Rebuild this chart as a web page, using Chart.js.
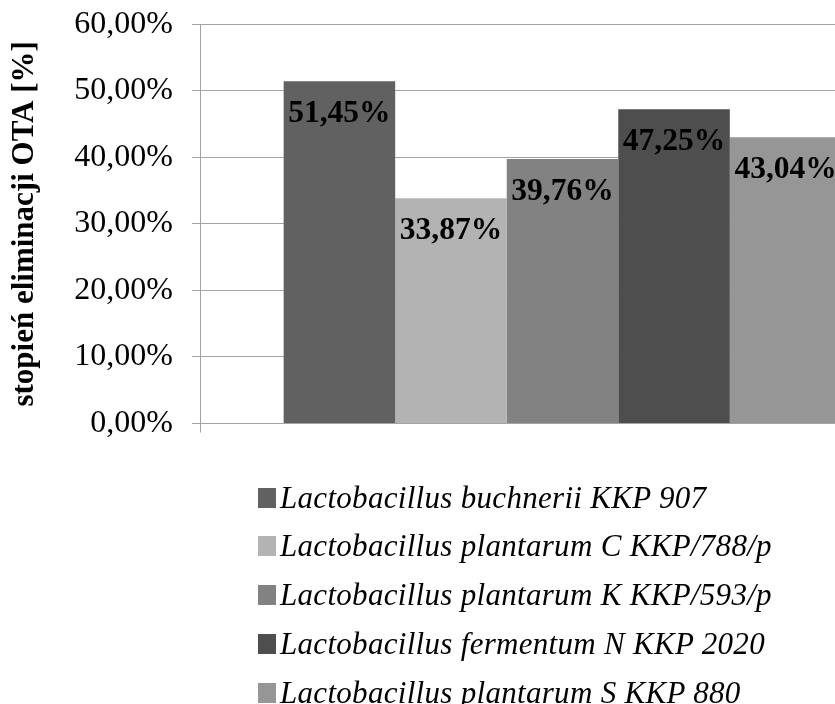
<!DOCTYPE html>
<html>
<head>
<meta charset="utf-8">
<script src="https://cdn.jsdelivr.net/npm/chart.js@4/dist/chart.umd.min.js"></script>
<style>
  html, body { margin: 0; padding: 0; background: #fff; width: 835px; height: 704px; overflow: hidden; }
  #wrap { position: absolute; left: 0; top: 0; width: 935px; height: 446px; }
  #legend { position: absolute; left: 0; top: 0; width: 835px; height: 704px; pointer-events: none; }
  .row { position: absolute; left: 0; height: 36px; width: 835px; }
  .box { position: absolute; left: 258px; top: 8px; width: 18px; height: 20px; }
  .txt { position: absolute; left: 280px; top: 0; font: italic 31px "Liberation Serif", "Times New Roman", serif;
         line-height: 36px; white-space: nowrap; color: #000; letter-spacing: 0.3px; }
</style>
</head>
<body>
<div id="wrap"><canvas id="c"></canvas></div>
<div id="legend"></div>
<script>
// Strains tested and their OTA elimination degree (%)
const strains = [
  'Lactobacillus buchnerii KKP 907',
  'Lactobacillus plantarum C KKP/788/p',
  'Lactobacillus plantarum K KKP/593/p',
  'Lactobacillus fermentum N KKP 2020',
  'Lactobacillus plantarum S KKP 880'
];
const elimination = [51.45, 33.87, 39.76, 47.25, 43.04];
const barColors = ['#616161', '#b3b3b3', '#828282', '#4e4e4e', '#969696'];
const yTicks = [0, 10, 20, 30, 40, 50, 60];
const categories = [''];

const fmt = v => v.toFixed(2).replace('.', ',') + '%';
const gridGray = '#a3a3a3';

// value labels drawn inside the top of each bar
const valueLabels = {
  id: 'valueLabels',
  afterDatasetsDraw(chart) {
    const ctx = chart.ctx;
    ctx.save();
    ctx.font = 'bold 31.5px "Liberation Serif", "Times New Roman", serif';
    ctx.fillStyle = '#000';
    ctx.textAlign = 'center';
    ctx.textBaseline = 'middle';
    chart.data.datasets.forEach((ds, i) => {
      const bar = chart.getDatasetMeta(i).data[0];
      ctx.fillText(fmt(ds.data[0]), bar.x, bar.y + 33);
    });
    ctx.restore();
  }
};

const chart = new Chart(document.getElementById('c'), {
  type: 'bar',
  data: {
    labels: categories,
    datasets: strains.map((name, i) => ({
      label: name,
      data: [elimination[i]],
      backgroundColor: barColors[i],
      borderWidth: 0,
      barPercentage: 1,
      categoryPercentage: 5 / 6.5
    }))
  },
  options: {
    responsive: true,
    maintainAspectRatio: false,
    animation: false,
    events: [],
    layout: { padding: { left: 0, top: 24.3, right: 10, bottom: 0 } },
    plugins: { legend: { display: false }, tooltip: { enabled: false } },
    scales: {
      x: {
        grid: { display: true, drawOnChartArea: false, drawTicks: true, tickLength: 9, color: gridGray, offset: true },
        border: { display: true, color: gridGray },
        ticks: { display: false },
        afterFit(scale) {
          scale.height = 22.5;
          scale.paddingLeft = 0; scale.paddingRight = 0;
        }
      },
      y: {
        min: 0,
        max: 60,
        afterBuildTicks(scale) { scale.ticks = yTicks.map(v => ({ value: v })); },
        grid: { color: gridGray, tickLength: 8 },
        border: { display: true, color: gridGray },
        ticks: {
          padding: 19,
          color: '#000',
          font: { family: '"Liberation Serif", "Times New Roman", serif', size: 32 },
          callback: v => fmt(v)
        },
        title: {
          display: true,
          text: 'stopień eliminacji OTA [%]',
          color: '#000',
          font: { family: '"Liberation Serif", "Times New Roman", serif', size: 31, weight: 'bold' },
          padding: { top: 6, bottom: 0 }
        },
        afterFit(scale) {
          scale.width = 200;
          scale.paddingTop = 0; scale.paddingBottom = 0;
        }
      }
    }
  },
  plugins: [valueLabels]
});

// legend list under the plot, one strain per line
const legend = document.getElementById('legend');
chart.data.datasets.forEach((ds, i) => {
  const row = document.createElement('div');
  row.className = 'row';
  row.style.top = (479.5 + i * 48.9) + 'px';
  const box = document.createElement('span');
  box.className = 'box';
  box.style.background = ds.backgroundColor;
  const txt = document.createElement('span');
  txt.className = 'txt';
  txt.textContent = ds.label;
  row.appendChild(box);
  row.appendChild(txt);
  legend.appendChild(row);
});
</script>
</body>
</html>
